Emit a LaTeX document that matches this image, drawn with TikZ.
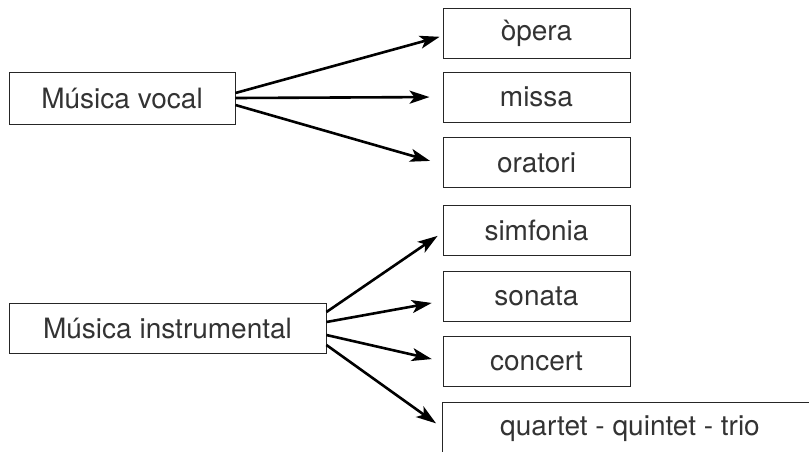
\documentclass[tikz,border=0pt]{standalone}
\usepackage{fontspec}
\setmainfont{TeX Gyre Heros}
\usetikzlibrary{arrows.meta,calc}

\begin{document}
\begin{tikzpicture}[x=1pt,y=-1pt,
    box/.style={draw=black!85, line width=0.9pt, rectangle, inner sep=0pt, text=black!80,
        minimum height=50pt, font=\fontsize{28}{33}\selectfont},
    genre/.style={box, minimum width=187pt},
    branch/.style={-{Stealth[length=20pt,width=13pt,inset=5pt]}, line width=2.6pt, shorten >=10pt}]
            \useasboundingbox (0,0) rectangle (809,451);
            \clip (0,0) rectangle (809,451);
            %Groups
            \node[box, minimum width=226pt, minimum height=52pt] (vocal) at (122,98) {Música vocal};
            \node[box, minimum width=317pt] (instr) at (167.5,328) {Música instrumental};
            %Genres
            \node[genre] (opera) at (536.5,33) {òpera};
            \node[genre] (missa) at (536.5,97) {missa};
            \node[genre] (oratori) at (536.5,162.5) {oratori};
            \node[genre] (simfonia) at (536.5,230.5) {simfonia};
            \node[genre] (sonata) at (536.5,296) {sonata};
            \node[genre] (concert) at (536.5,361.5) {concert};
            \node[box, draw=none, minimum width=374pt, minimum height=52pt] (quartet) at (630,429) {quartet - quintet - trio};
            \draw[black!85, line width=0.9pt] (quartet.south west) -- (quartet.north west) -- (quartet.north east);
            %Arrows
            \draw[branch, shorten >=3pt] ([yshift=5pt]vocal.east) -- ([yshift=-3pt]opera.west);
            \draw[branch, shorten >=13pt] (vocal.east) -- (missa.west);
            \draw[branch, shorten >=13pt] ([yshift=-7pt]vocal.east) -- ([yshift=-2pt]oratori.west);
            \draw[branch, shorten >=6pt] ([yshift=16pt]instr.east) -- ([yshift=-2pt]simfonia.west);
            \draw[branch, shorten >=11pt] ([yshift=6pt]instr.east) -- ([yshift=-5pt]sonata.west);
            \draw[branch, shorten >=11pt] ([yshift=-7pt]instr.east) -- (concert.west);
            \draw[branch, shorten >=8pt] ([yshift=-17pt]instr.east) -- ([yshift=1pt]quartet.west);
        \end{tikzpicture}
\end{document}
